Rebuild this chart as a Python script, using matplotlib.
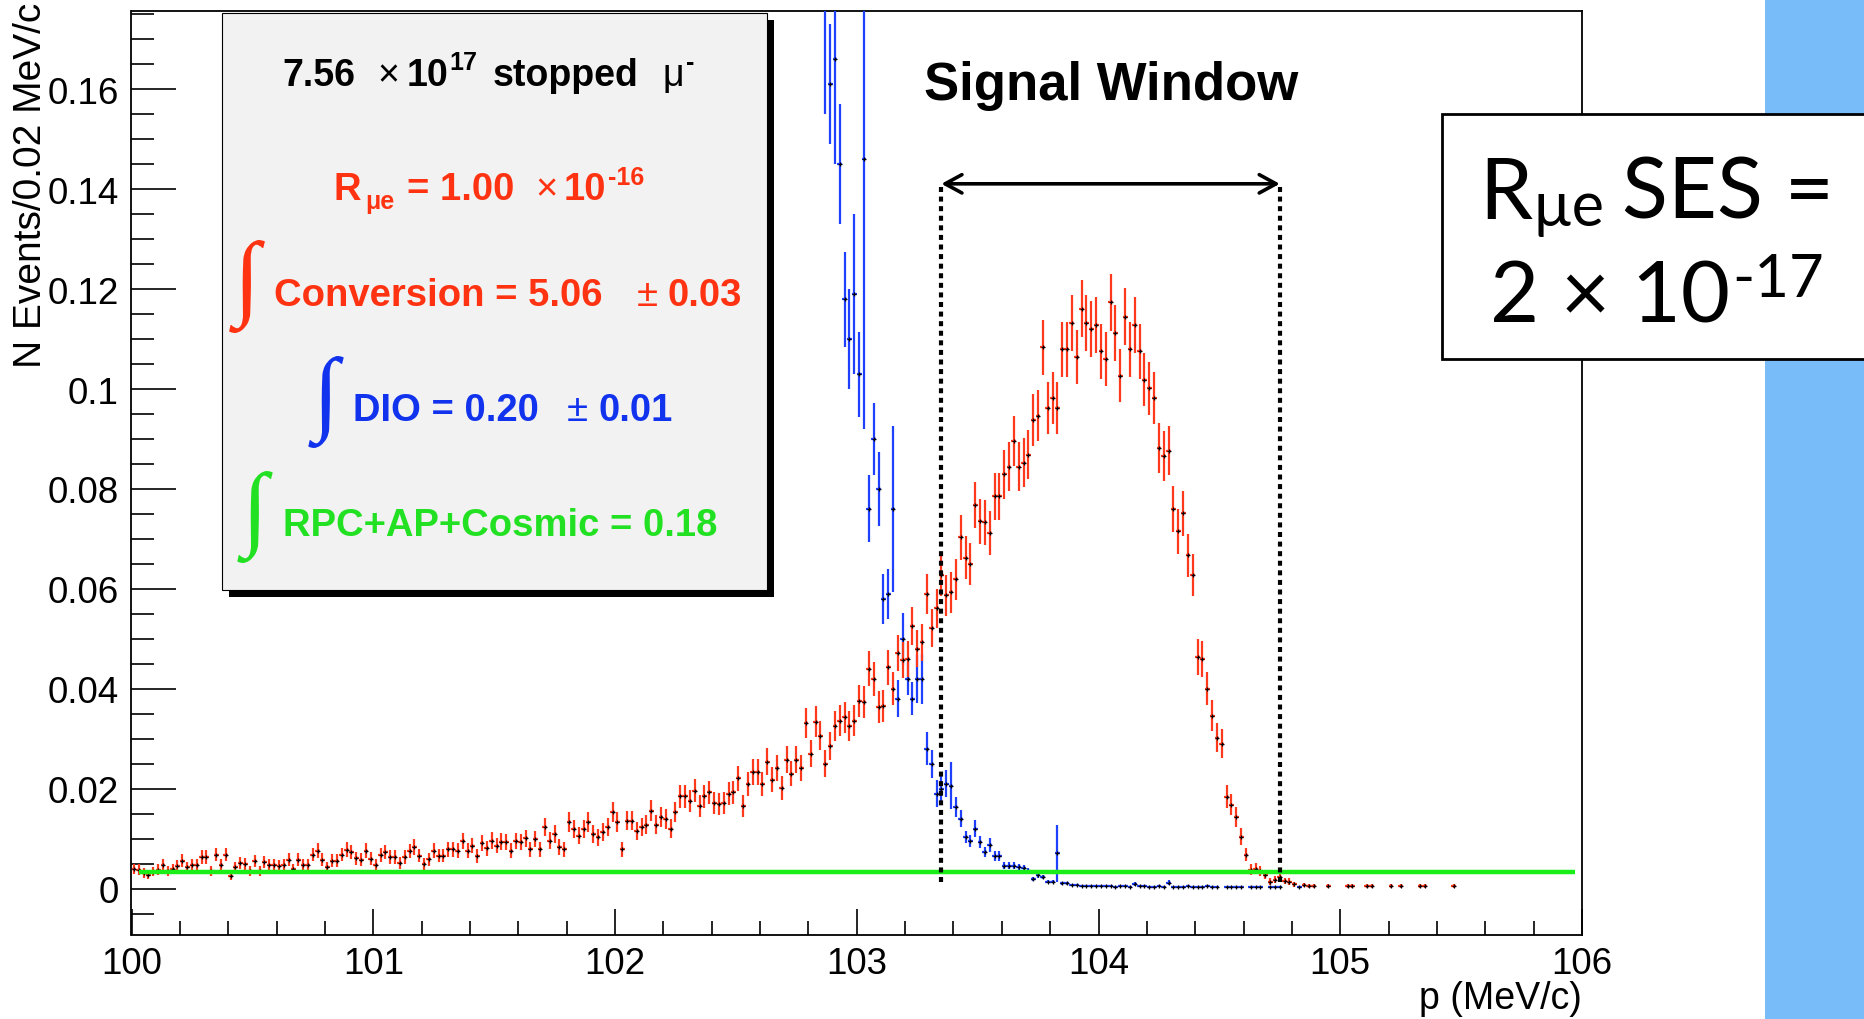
import numpy as np
import matplotlib
matplotlib.use("Agg")
import matplotlib.pyplot as plt
from matplotlib.patches import Rectangle, PathPatch
from matplotlib.ticker import MultipleLocator, FuncFormatter
from matplotlib.textpath import TextPath
from matplotlib.font_manager import FontProperties
from matplotlib.transforms import Affine2D, IdentityTransform

plt.rcParams["font.family"] = ["Liberation Sans", "DejaVu Sans"]

# ---------------------------------------------------------------- data
P_MIN = 100.0
BIN_WIDTH = 0.02  # MeV/c

# Conversion electrons: contiguous bins starting at 100.00 MeV/c
conversion_counts = [
    0.0039, 0.0038, 0.0031, 0.0027, 0.0034, 0.0038, 0.0047, 0.0036, 0.0039, 0.0046,
    0.0056, 0.0043, 0.0047, 0.0047, 0.0063, 0.0063, 0.0036, 0.0068, 0.0047, 0.0068,
    0.0026, 0.0043, 0.0051, 0.0049, 0.0036, 0.0055, 0.0036, 0.0053, 0.0047, 0.0047,
    0.0045, 0.0047, 0.0058, 0.0039, 0.0058, 0.0047, 0.0047, 0.0068, 0.0076, 0.0058,
    0.0043, 0.0056, 0.0056, 0.0068, 0.0078, 0.0073, 0.0061, 0.0058, 0.0076, 0.0060,
    0.0047, 0.0067, 0.0073, 0.0063, 0.0063, 0.0052, 0.0063, 0.0075, 0.0083, 0.0066,
    0.0049, 0.0059, 0.0076, 0.0066, 0.0066, 0.0079, 0.0079, 0.0076, 0.0095, 0.0076,
    0.0086, 0.0065, 0.0091, 0.0081, 0.0096, 0.0086, 0.0094, 0.0093, 0.0076, 0.0095,
    0.0093, 0.0101, 0.0079, 0.0099, 0.0079, 0.0123, 0.0096, 0.0109, 0.0083, 0.0079,
    0.0133, 0.0119, 0.0106, 0.0119, 0.0133, 0.0109, 0.0103, 0.0113, 0.0123, 0.0153,
    0.0133, 0.0079, 0.0136, 0.0136, 0.0116, 0.0123, 0.0128, 0.0156, 0.0128, 0.0143,
    0.0139, 0.0120, 0.0153, 0.0185, 0.0185, 0.0176, 0.0196, 0.0165, 0.0185, 0.0193,
    0.0171, 0.0169, 0.0171, 0.0190, 0.0193, 0.0221, 0.0165, 0.0209, 0.0233, 0.0233,
    0.0209, 0.0254, 0.0218, 0.0241, 0.0201, 0.0258, 0.0230, 0.0258, 0.0241, 0.0331,
    0.0270, 0.0334, 0.0306, 0.0250, 0.0286, 0.0326, 0.0336, 0.0343, 0.0326, 0.0336,
    0.0376, 0.0374, 0.0440, 0.0420, 0.0363, 0.0366, 0.0443, 0.0400, 0.0472, 0.0457,
    0.0460, 0.0525, 0.0480, 0.0493, 0.0590, 0.0521, 0.0561, 0.0627, 0.0587, 0.0593,
    0.0619, 0.0703, 0.0662, 0.0650, 0.0768, 0.0735, 0.0733, 0.0712, 0.0785, 0.0785,
    0.0829, 0.0845, 0.0897, 0.0845, 0.0853, 0.0869, 0.0938, 0.0947, 0.1084, 0.0962,
    0.0982, 0.0962, 0.1080, 0.1080, 0.1132, 0.1064, 0.1161, 0.1132, 0.1120, 0.1128,
    0.1076, 0.1060, 0.1174, 0.1112, 0.1027, 0.1145, 0.1080, 0.1128, 0.1076, 0.1019,
    0.1002, 0.0982, 0.0882, 0.0866, 0.0877, 0.0760, 0.0715, 0.0751, 0.0667, 0.0627,
    0.0464, 0.0460, 0.0400, 0.0346, 0.0302, 0.0290, 0.0184, 0.0168, 0.0144, 0.0104,
    0.0068, 0.0038, 0.0040, 0.0036, 0.0027, 0.0014, 0.0018, 0.0023, 0.0015, 0.0014,
    0.0009,
]
# isolated conversion entries above the endpoint
conversion_tail_p = [104.85, 104.87, 104.89, 104.95, 105.03, 105.05, 105.11,
                     105.13, 105.21, 105.25, 105.33, 105.35, 105.47]
conversion_tail_counts = [0.0007, 0.0006, 0.0005, 0.0005, 0.0006, 0.0005, 0.0006,
                          0.0005, 0.0005, 0.0005, 0.0005, 0.0005, 0.0005]
conversion_event_weight = 0.00028  # Poisson error = sqrt(content * weight)

# Decay-in-orbit: bins starting at bin 143 (102.86 MeV/c); 0 = empty bin
dio_first_bin = 143
dio_counts = [
    0.185, 0.161, 0.166, 0.145, 0.118, 0.110, 0.119, 0.103, 0.146, 0.076,
    0.090, 0.080, 0.058, 0.059, 0.076, 0.038, 0.050, 0.042, 0.038, 0.042,
    0.042, 0.028, 0.025, 0.019, 0.020, 0.021, 0.0206, 0.0163, 0.0140, 0.0103,
    0.0096, 0.0120, 0.0093, 0.0074, 0.0087, 0.0066, 0.0066, 0.0046, 0.0046, 0.0046,
    0.0043, 0.0041, 0.0036, 0.0019, 0.0027, 0.0023, 0.0014, 0.0014, 0.0071, 0.0011,
    0.0011, 0.0008, 0.0008, 0.0006, 0.0006, 0.0005, 0.0005, 0.0005, 0.0005, 0.0005,
    0.0004, 0.0005, 0.0005, 0.0004, 0.0010, 0.0005, 0.0005, 0.0004, 0.0004, 0.0005,
    0.0004, 0.0012, 0.0004, 0.0004, 0.0004, 0.0006, 0.0004, 0.0004, 0.0004, 0.0006,
    0.0004, 0.0004, 0, 0.0004, 0.0004, 0.0003, 0.0003, 0, 0.0003, 0.0003,
    0.0003, 0, 0.0003, 0.0003, 0.0003, 0, 0, 0, 0.0003,
]
dio_errors = [
    0.030, 0.012, 0.021, 0.012, 0.0095, 0.010, 0.016, 0.0085, 0.054, 0.0067,
    0.0073, 0.0075, 0.005, 0.005, 0.0167, 0.0037, 0.0052, 0.0033, 0.0033, 0.0048,
    0.005, 0.0033, 0.0028, 0.0027, 0.0028, 0.0027, 0.0047, 0.002, 0.0017, 0.0012,
    0.0012, 0.0017, 0.0012, 0.0010, 0.0014, 0.0010, 0.0010, 0.0007, 0.0007, 0.0007,
    0.0006, 0.0006, 0.0005, 0.0004, 0.0005, 0.0004, 0.0003, 0.0003, 0.0057, 0.0003,
    0.0003, 0.0002, 0.0002, 0.0002, 0.0002, 0.0002, 0.0002, 0.0002, 0.0002, 0.0002,
    0.0002, 0.0002, 0.0002, 0.0002, 0.0004, 0.0002, 0.0002, 0.0002, 0.0002, 0.0002,
    0.0002, 0.0005, 0.0002, 0.0002, 0.0002, 0.0002, 0.0002, 0.0002, 0.0002, 0.0002,
    0.0002, 0.0002, 0, 0.0002, 0.0002, 0.0002, 0.0002, 0, 0.0002, 0.0002,
    0.0002, 0, 0.0002, 0.0002, 0.0002, 0, 0, 0, 0.0002,
]

# RPC + antiproton + cosmic background (flat)
rpc_level = 0.0033
rpc_range = (100.03, 105.97)

signal_window = (103.35, 104.75)
window_arrow_y = 0.1411
window_line_bottom = 0.0013

x_limits = (100, 106)
y_limits = (-0.0093, 0.1757)

RED = "#ff3a1c"
BLUE = "#2040ff"
GREEN = "#19ee19"
TXT_RED = "#ff3311"
TXT_BLUE = "#1133ee"
TXT_GREEN = "#22e022"

# ---------------------------------------------------------------- figure
W, H = 1865, 1020
fig = plt.figure(figsize=(W / 100, H / 100), dpi=100)
fig.patch.set_facecolor("white")
renderer = fig.canvas.get_renderer()

# slide background stripe on the right
fig.add_artist(Rectangle((1765, 0), 110, H, transform=IdentityTransform(),
                         facecolor="#78bcfa", edgecolor="none", zorder=0.5))

ax = fig.add_axes([131.5 / W, 84 / H, 1450.5 / W, 924 / H])
ax.set_xlim(*x_limits)
ax.set_ylim(*y_limits)

MARK = dict(ls="none", marker="+", color="black", ms=2.6, mew=0.9)

# DIO histogram
dio_v = np.array(dio_counts, dtype=float)
dio_e = np.array(dio_errors, dtype=float)
dio_p = P_MIN + (dio_first_bin + np.arange(len(dio_v)) + 0.5) * BIN_WIDTH
keep = dio_v > 0
ax.errorbar(dio_p[keep], dio_v[keep], xerr=BIN_WIDTH / 2, yerr=dio_e[keep], fmt="none",
            ecolor=BLUE, elinewidth=1.6, capsize=0, zorder=3)
ax.plot(dio_p[keep], dio_v[keep], zorder=3.1, **MARK)

# Conversion histogram
conv_v = np.concatenate([conversion_counts, conversion_tail_counts])
conv_p = np.concatenate([P_MIN + (np.arange(len(conversion_counts)) + 0.5) * BIN_WIDTH,
                         conversion_tail_p])
conv_e = np.sqrt(conv_v * conversion_event_weight)
ax.errorbar(conv_p, conv_v, xerr=BIN_WIDTH / 2, yerr=conv_e, fmt="none",
            ecolor=RED, elinewidth=1.6, capsize=0, zorder=3.3)
ax.plot(conv_p, conv_v, zorder=3.4, **MARK)

# flat background
ax.hlines(rpc_level, *rpc_range, color=GREEN, lw=3.2, zorder=4)

# signal window
ax.vlines(signal_window, window_line_bottom, window_arrow_y, colors="black", lw=3.0,
          linestyles=[(0, (1.2, 1.1))], zorder=5)
ax.annotate("", xy=(signal_window[1], window_arrow_y), xytext=(signal_window[0], window_arrow_y),
            arrowprops=dict(arrowstyle="<->,head_length=0.55,head_width=0.3", lw=2.6,
                            color="black", shrinkA=0, shrinkB=0, mutation_scale=22),
            zorder=5)

# axes styling
for s in ax.spines.values():
    s.set_linewidth(1.3)
ax.xaxis.set_major_locator(MultipleLocator(1))
ax.xaxis.set_minor_locator(MultipleLocator(0.2))
ax.yaxis.set_major_locator(MultipleLocator(0.02))
ax.yaxis.set_minor_locator(MultipleLocator(0.005))
ax.xaxis.set_major_formatter(FuncFormatter(lambda v, _: "%d" % round(v)))
ax.yaxis.set_major_formatter(FuncFormatter(lambda v, _: "%g" % round(v, 4) if abs(v) > 1e-9 else "0"))
ax.tick_params(which="both", direction="in", top=False, right=False, width=1.2)
ax.tick_params(axis="y", which="major", length=32.4, pad=9, labelsize=26.5)
ax.tick_params(axis="y", which="minor", length=16.6)
ax.tick_params(axis="x", which="major", length=18.7, pad=8, labelsize=26.5)
ax.tick_params(axis="x", which="minor", length=10)

fig.text(1582, H - 1017, "p (MeV/c)", ha="right", va="bottom", fontsize=27,
         transform=IdentityTransform())
fig.text(31, H - 3, "N Events/0.02 MeV/c", ha="center", va="top", rotation=90, fontsize=28,
         transform=IdentityTransform())

fig.text(1111, H - 100, "Signal Window", ha="center", va="baseline", fontsize=38,
         fontweight="bold", transform=IdentityTransform(), zorder=6)


# ---------------------------------------------------------------- helpers
def rich_line(parts, x, baseline, align="left", zorder=6):
    """Place text pieces one after another; each piece is
    (text, fontsize, style dict, rise in px, gap in px after it)."""
    made = []
    cursor = x
    for text, size, style, rise, gap in parts:
        t = fig.text(cursor, H - baseline + rise, text, fontsize=size, va="baseline", ha="left",
                     transform=IdentityTransform(), zorder=zorder, **style)
        cursor += t.get_window_extent(renderer).width + gap
        made.append(t)
    total = cursor - x - parts[-1][4]
    if align == "center":
        for t in made:
            px, py = t.get_position()
            t.set_position((px - total / 2, py))
    return made


def integral_sign(x_center, y_top, y_bottom, color):
    tp = TextPath((0, 0), "\u222b", size=100,
                  prop=FontProperties(family=["Liberation Serif", "DejaVu Serif"]))
    ext = tp.get_extents()
    k = (y_bottom - y_top) / ext.height
    tr = (Affine2D().translate(-(ext.x0 + ext.x1) / 2, -ext.y0).scale(k)
          .translate(x_center, H - y_bottom))
    fig.add_artist(PathPatch(tr.transform_path(tp), facecolor=color, edgecolor="none",
                             transform=IdentityTransform(), zorder=6))


# ---------------------------------------------------------------- stats box
box_l, box_t, box_r, box_b = 222, 14, 767, 591
fig.add_artist(Rectangle((box_l + 7, H - box_b - 7), box_r - box_l, box_b - box_t,
                         transform=IdentityTransform(), facecolor="black", edgecolor="none",
                         zorder=5))
fig.add_artist(Rectangle((box_l, H - box_b), box_r - box_l, box_b - box_t,
                         transform=IdentityTransform(), facecolor="#f2f2f2", edgecolor="black",
                         lw=0.8, zorder=5.1))

B = dict(fontweight="bold", family=["Liberation Sans", "DejaVu Sans"])
N = dict(fontweight="normal", family=["Liberation Sans", "DejaVu Sans"])
rich_line([("7.56", 27, dict(B, color="black"), 0, 22),
           ("\u00d7", 27, dict(N, color="black"), 0, 8),
           ("10", 27, dict(B, color="black"), 0, 1),
           ("17", 18, dict(B, color="black"), 16, 15),
           ("stopped", 27, dict(B, color="black"), 0, 24),
           ("\u03bc", 27, dict(N, color="black"), 0, 2),
           ("-", 18, dict(B, color="black"), 16, 0)], 282, 86)
rich_line([("R", 27.5, dict(B, color=TXT_RED), 0, 4),
           ("\u03bce", 18, dict(B, color=TXT_RED), -9, 12),
           ("= 1.00", 27.5, dict(B, color=TXT_RED), 0, 21),
           ("\u00d7", 27.5, dict(N, color=TXT_RED), 0, 6),
           ("10", 27.5, dict(B, color=TXT_RED), 0, 2),
           ("-16", 18, dict(B, color=TXT_RED), 15, 0)], 334, 200)

integral_sign(247, 241, 334, TXT_RED)
rich_line([("Conversion = 5.06", 27.5, dict(B, color=TXT_RED), 0, 34),
           ("\u00b1", 27.5, dict(N, color=TXT_RED), 0, 10),
           ("0.03", 27.5, dict(B, color=TXT_RED), 0, 0)], 274, 306)
integral_sign(326, 357, 449, TXT_BLUE)
rich_line([("DIO = 0.20", 27.5, dict(B, color=TXT_BLUE), 0, 28),
           ("\u00b1", 27.5, dict(N, color=TXT_BLUE), 0, 10),
           ("0.01", 27.5, dict(B, color=TXT_BLUE), 0, 0)], 353, 421)
integral_sign(255, 472, 564, TXT_GREEN)
rich_line([("RPC+AP+Cosmic = 0.18", 27.5, dict(B, color=TXT_GREEN), 0, 0)], 283, 536)

# ---------------------------------------------------------------- sensitivity box
fig.add_artist(Rectangle((1442, H - 360), 440, 245, transform=IdentityTransform(),
                         facecolor="white", edgecolor="black", lw=2, zorder=5))
L = dict(family=["Lato", "DejaVu Sans"], color="black")
rich_line([("R", 61, L, 0, 0), ("\u00b5e", 44, L, -7, 18), ("SES =", 61, L, 0, 0)],
          1657, 219, align="center")
rich_line([("2 \u00d7 10", 61, L, 0, 2), ("-17", 43, L, 26, 0)], 1657, 323, align="center")

fig.savefig("out.png", dpi=100)
